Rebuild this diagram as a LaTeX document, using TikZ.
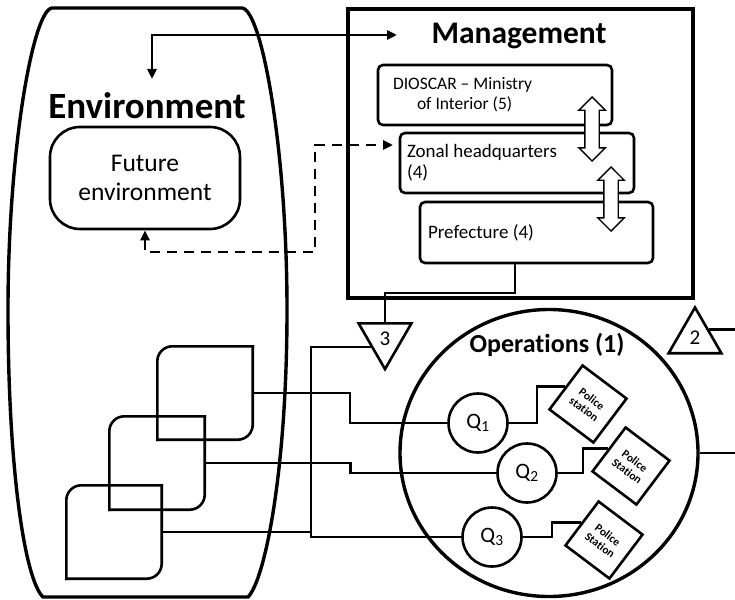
\documentclass[tikz,border=0pt]{standalone}
\usepackage{fontspec}
\setmainfont{Carlito}[Ligatures={TeX,NoCommon}]
\usetikzlibrary{shapes.geometric,shapes.arrows,arrows.meta,calc}

\begin{document}
\begin{tikzpicture}[x=1pt,y=-1pt]
 \tikzset{
  heavy/.style={line width=3.4pt},
  wire/.style={line width=2.6pt},
  title/.style={font=\fontsize{#1}{36}\selectfont\bfseries},
  level box/.style={
    draw, wire,
    rounded corners=5pt,
    minimum height=60pt,
    text width=#1,
    align=flush left,
    inner xsep=8pt,
    font=\fontsize{19}{21}\selectfont
  },
  level box/.default=217pt,
  link/.style={draw, double arrow, fill=white, line width=1.4pt,
    rotate=90, minimum height=64pt, minimum width=0pt,
    inner xsep=0pt, inner ysep=6.5pt,
    double arrow head extend=6pt},
  unit/.style={minimum width=95pt, minimum height=93pt, inner sep=0pt},
  queue/.style={draw, wire, circle, minimum size=59pt, inner sep=0pt,
    font=\fontsize{22}{24}\selectfont},
  station/.style={draw, wire, rectangle, rotate=-37, minimum size=55pt,
    inner sep=0pt, align=center,
    font=\fontsize{11.5}{13}\selectfont\bfseries},
  gate/.style={draw, wire, regular polygon, regular polygon sides=3,
    minimum size=61pt, inner sep=0pt, font=\fontsize{21}{23}\selectfont},
  flow/.style={wire, {Triangle[length=10pt,width=9pt]}-{Triangle[length=10pt,width=9pt]}}
 }
\useasboundingbox (0,0) rectangle (735,599);
\coordinate (rim) at (735,0);

\draw[heavy] (52,8) -- (242,8)
  .. controls (262,10) and (287,150) .. (287,310)
  .. controls (287,470) and (265,580) .. (248,597) -- (43,597)
  .. controls (25,580) and (8,470) .. (8,310)
  .. controls (8,150) and (33,10) .. (52,8) -- cycle;
\node[title=37] (envtitle) at (147,106) {Environment};
\node[draw, wire, rounded corners=30pt, minimum width=190pt, minimum height=102pt,
  align=center, font=\fontsize{25.5}{29}\selectfont] (future) at (145,178)
  {Future\\environment};

\node[draw, heavy, minimum width=345pt, minimum height=289pt] (mgmt) at (520.5,153.5) {};
\node[title=31.5] (mgmttitle) at (519,36) {Management};
\node[level box=204pt, inner xsep=15pt, font=\fontsize{17.5}{20}\selectfont] (dioscar) at (495,95)
  {DIOSCAR -- Ministry\\\hspace*{24pt}of Interior (5)};
\node[level box=220pt, inner xsep=7pt] (zonal) at (517,163) {Zonal headquarters\\(4)};
\node[level box=217pt, minimum height=61pt] (pref) at (536.5,232.5) {Prefecture (4)};
\node[link] (up1) at (592,129) {};
\node[link] (up2) at (611,199) {};

\coordinate (envin) at (152,79);
\coordinate (mgmtin) at (397,35);
\draw[flow] (envin) |- (mgmtin);
\coordinate (zonin) at (393,145);
\draw[flow, dashed, dash pattern=on 10pt off 7pt] (future.south) |- (315,252) |- (zonin);

\node[gate, shape border rotate=180] (tri3) at (385,338.6) {3};
\node[gate] (tri2) at (695,338) {2};
\coordinate (drop) at (515,293);
\draw[wire] (pref.south -| drop) -- (drop) -| (tri3.side 2);
\draw[wire] (tri2.side 3) -- (tri2.side 3 -| rim);

\node[draw, heavy, ellipse, minimum width=298pt, minimum height=287pt] (ops) at (549,453) {};
\node[font=\fontsize{26}{30}\selectfont\bfseries] (opstitle) at (547,345) {Operations (1)};
\draw[wire] (ops.east) -- (ops.east -| rim);

\node[queue] (q1) at (478,423) {Q\textsubscript{1}};
\node[queue] (q2) at (527,473) {Q\textsubscript{2}};
\node[queue] (q3) at (492,537) {Q\textsubscript{3}};
\node[station] (ps1) at (588,404) {Police\\station};
\node[station] (ps2) at (631,466) {Police\\Station};
\node[station] (ps3) at (604,540) {Police\\Station};

\node[unit] (sa) at (205,393) {};
\node[unit] (sb) at (157,463) {};
\node[unit] (sc) at (114,532) {};
\foreach \s in {sa,sb,sc}{
  \draw[wire, line cap=rect, rounded corners=15pt] (\s.south west) |- (\s.north east);
  \draw[wire, line cap=rect, rounded corners=15pt] (\s.north east) |- (\s.south west);
}

\foreach \a/\b in {sa/q1,sb/q2,q1/ps1,q2/ps2,q3/ps3}
  \draw[wire] (\a.east) -| ($(\a.east)!.5!(\b.west)$) |- (\b.west);
\coordinate (bus) at (311,440);
\draw[wire] (tri3.side 3) -| (bus) |- (q3.west);
\draw[wire] (sc.east) -- (sc.east -| bus);
\end{tikzpicture}
\end{document}
